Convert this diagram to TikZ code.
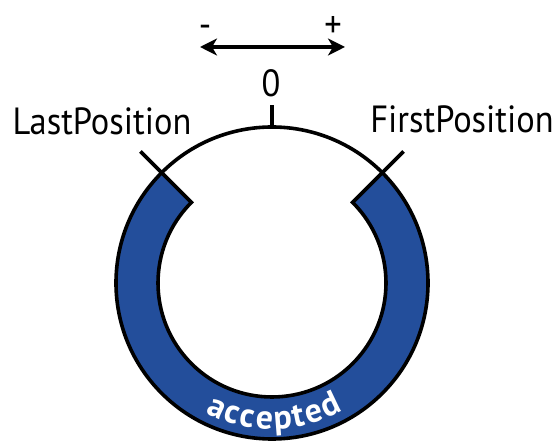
\documentclass[tikz,border=0pt]{standalone}
\usepackage{fontspec}
\setmainfont{PT Sans}[FakeStretch=0.91]
\newfontfamily\accfont{PT Sans}
\usetikzlibrary{arrows.meta,decorations.text}
\definecolor{ringblue}{RGB}{35,78,155}
\begin{document}
\begin{tikzpicture}[x=1bp,y=1bp,
  ln/.style={line width=3.6bp},
  lbl/.style={inner sep=0pt,anchor=base,font=\fontsize{38}{38}\selectfont}]
\useasboundingbox (0,0) rectangle (556,444);
\coordinate (C) at (272,161);
% blue ring segment
\fill[ringblue,draw=black,ln,line join=miter]
  ([shift={(45:156)}]C) arc[start angle=45,end angle=-225,radius=156]
  -- ([shift={(135:114)}]C) arc[start angle=-225,end angle=45,radius=114] -- cycle;
% top arc
\draw[ln] ([shift={(45:156)}]C) arc[start angle=45,end angle=135,radius=156];
% ticks
\coordinate (tl1) at ([shift={(135:156)}]C);
\coordinate (tl2) at ([shift={(135:186)}]C);
\coordinate (tr1) at ([shift={(45:156)}]C);
\coordinate (tr2) at ([shift={(45:186)}]C);
\coordinate (tt1) at ([shift={(90:156)}]C);
\coordinate (tt2) at ([shift={(90:178)}]C);
\draw[ln] (tl1) -- (tl2);
\draw[ln] (tr1) -- (tr2);
\draw[ln] (tt1) -- (tt2);
% arrow
\coordinate (al) at (200,397);
\coordinate (ar) at (345,397);
\draw[line width=3.4bp,{Stealth[length=17bp,width=17bp,inset=5bp]}-{Stealth[length=17bp,width=17bp,inset=5bp]}] (al) -- (ar);
% labels
\node[lbl] (minus) at (205,406) {-};
\node[lbl] (plus) at (333,406) {+};
\node[lbl] (zero) at (271,347) {0};
\node[lbl] (last) at (102,309) {LastPosition};
\node[lbl] (first) at (462,311) {FirstPosition};
% accepted text
\path[shift={(C)},decorate,decoration={text along path,text align=fit to path,text color=white,
  text={|\accfont\bfseries\fontsize{34}{34}\selectfont|accepted}}]
  (-117:146) arc[start angle=-117,end angle=-61,radius=146];
\end{tikzpicture}
\end{document}
